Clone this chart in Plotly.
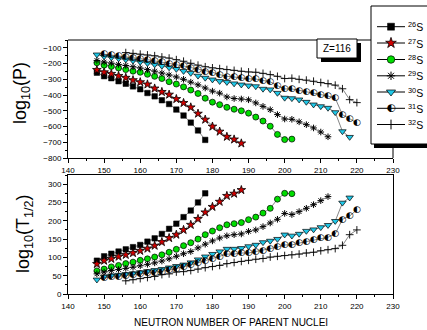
import plotly.graph_objects as go

# ---------------- data ----------------
N26 = [148,150,152,154,156,158,160,162,164,166,168,170,172,174,176,178]
P26 = [-258,-280,-293,-312,-328,-345,-363,-387,-408,-433,-457,-492,-530,-575,-625,-685]
T26 = [91,103,110,116,122,128,134,143,152,164,178,192,210,228,250,275]

N27 = [148,150,152,154,156,158,160,162,164,166,168,170,172,174,176,178,180,182,184,186,188]
P27 = [-240,-255,-265,-278,-290,-305,-318,-332,-358,-380,-397,-425,-450,-478,-518,-556,-600,-632,-665,-682,-707]
T27 = [82,91,96,102,107,112,118,124,132,142,153,162,175,189,205,223,238,252,268,274,284]

N28 = [148,150,152,154,156,158,160,162,164,166,168,170,172,174,176,178,180,182,184,186,188,190,192,194,196,198,200,202]
P28 = [-195,-210,-218,-228,-238,-248,-255,-268,-281,-295,-315,-330,-348,-368,-390,-420,-445,-461,-478,-490,-500,-515,-540,-565,-598,-650,-683,-680]
T28 = [63,68,74,78,83,87,92,96,101,107,114,122,132,140,150,162,172,181,189,192,195,203,210,221,234,259,275,274]

N29 = [148,150,152,154,156,158,160,162,164,166,168,170,172,174,176,178,180,182,184,186,188,190,192,194,196,198,200,202,204,206,208,210,212]
P29 = [-180,-190,-197,-205,-212,-220,-228,-238,-248,-260,-272,-285,-300,-318,-335,-355,-375,-388,-412,-422,-425,-430,-450,-472,-493,-524,-552,-554,-570,-588,-609,-635,-665]
T29 = [55,60,64,67,70,73,77,81,85,90,96,103,110,116,126,136,145,153,159,162,164,171,175,184,194,204,220,217,225,234,244,255,266]

N30 = [148,150,152,154,156,158,160,162,164,166,168,170,172,174,176,178,180,182,184,186,188,190,192,194,196,198,200,202,204,206,208,210,212,214,216,218]
P30 = [-143,-155,-162,-168,-175,-182,-190,-198,-206,-215,-225,-235,-248,-260,-278,-291,-302,-312,-318,-327,-334,-340,-345,-361,-365,-387,-418,-421,-429,-444,-461,-472,-482,-510,-631,-667]
T30 = [39,47,50,52,54,56,59,62,65,68,72,76,80,86,94,102,109,116,123,123,125,130,134,141,145,150,162,159,164,172,176,182,188,199,249,263]

N31 = [150,152,154,156,158,160,162,164,166,168,170,172,174,176,178,180,182,184,186,188,190,192,194,196,198,200,202,204,206,208,210,212,214,216,218,220]
P31 = [-140,-145,-150,-155,-160,-168,-175,-182,-190,-198,-207,-215,-225,-237,-249,-255,-270,-281,-285,-291,-297,-298,-308,-316,-340,-361,-361,-370,-376,-384,-395,-406,-420,-525,-550,-578]
T31 = [44,46,48,50,52,54,57,59,62,65,69,74,79,85,91,96,103,109,109,112,112,116,119,123,128,134,134,139,143,148,153,155,164,204,213,230]

N32 = [156,158,160,162,164,166,168,170,172,174,176,178,180,182,184,186,188,190,192,194,196,198,200,202,204,206,208,210,212,214,216,218,220]
P32 = [-130,-135,-140,-145,-150,-158,-165,-175,-185,-198,-210,-220,-227,-232,-238,-243,-249,-253,-255,-262,-270,-281,-295,-293,-300,-305,-312,-320,-327,-337,-360,-429,-448]
T32 = [36,39,42,45,48,53,55,60,61,64,68,72,75,78,83,86,89,92,95,97,101,103,105,107,109,112,114,118,121,124,133,162,175]

LEGEND_LABELS = ["<sup>26</sup>S", "<sup>27</sup>S", "<sup>28</sup>S", "<sup>29</sup>S",
                 "<sup>30</sup>S", "<sup>31</sup>S", "<sup>32</sup>S"]
Y_TICKS_TOP = [-800, -700, -600, -500, -400, -300, -200, -100]
Y_TICKS_BOT = [0, 50, 100, 150, 200, 250, 300]
X_TICKS = [140, 150, 160, 170, 180, 190, 200, 210, 220, 230]

# ---------------- styles ----------------
FONT = "Liberation Sans, Arial, sans-serif"
styles = [
    dict(symbol="square", size=5.5, color="black", line=dict(color="black", width=0.5)),
    dict(symbol="star", size=6.5, color="#d00000", line=dict(color="black", width=0.8)),
    dict(symbol="circle", size=6, color="#00dd00", line=dict(color="black", width=0.7)),
    dict(symbol="asterisk-open", size=5.5, color="black", line=dict(color="#222222", width=1)),
    dict(symbol="triangle-down", size=6.5, color="#20c8e8", line=dict(color="black", width=0.7)),
    None,  # half-filled circle drawn as a glyph
    dict(symbol="cross-thin-open", size=5.5, color="black", line=dict(color="black", width=0.9)),
]
legend_styles = [
    dict(symbol="square", size=7, color="black", line=dict(color="black", width=0.5)),
    dict(symbol="star", size=8, color="#d00000", line=dict(color="black", width=0.8)),
    dict(symbol="circle", size=7.5, color="#00dd00", line=dict(color="black", width=0.7)),
    dict(symbol="asterisk-open", size=7, color="black", line=dict(color="#222222", width=1)),
    dict(symbol="triangle-down", size=8, color="#20c8e8", line=dict(color="black", width=0.7)),
    None,
    dict(symbol="cross-thin-open", size=7, color="black", line=dict(color="black", width=1)),
]

series = [(N26, P26, T26), (N27, P27, T27), (N28, P28, T28), (N29, P29, T29),
          (N30, P30, T30), (N31, P31, T31), (N32, P32, T32)]

fig = go.Figure()
LINE = dict(color="#333333", width=0.6)
HALF = "\u25D0"
HALF_FONT = dict(family="DejaVu Sans", size=9, color="black")

for i, (n, p, t) in enumerate(series):
    for (vals, xa, ya) in ((p, "x", "y"), (t, "x2", "y2")):
        if styles[i] is None:
            fig.add_trace(go.Scatter(x=n, y=vals, mode="lines", line=LINE,
                                     xaxis=xa, yaxis=ya, showlegend=False))
            fig.add_trace(go.Scatter(x=n, y=vals, mode="text", text=[HALF] * len(n),
                                     textposition="middle center", textfont=HALF_FONT,
                                     xaxis=xa, yaxis=ya, showlegend=False))
        else:
            fig.add_trace(go.Scatter(x=n, y=vals, mode="lines+markers", line=LINE,
                                     marker=styles[i], xaxis=xa, yaxis=ya, showlegend=False))

# ---------------- pixel helpers (layout geometry) ----------------
L, R, T, B = 68, 393, 0, 294
W, H = 427, 330
TOP_Y0, TOP_Y1 = 40, 158      # top panel frame (pixels)
BOT_Y0, BOT_Y1 = 175, 294     # bottom panel frame (pixels)
def px(x):
    return (x - L) / (R - L)
def py(y):
    return (B - y) / (B - T)

legend_rows = [26.7, 43.0, 59.5, 75.8, 92.0, 108.3, 124.5]

# legend markers on an overlay axis measured in pixels
for i, ly in enumerate(legend_rows):
    if legend_styles[i] is None:
        fig.add_trace(go.Scatter(x=[391], y=[ly], mode="text", text=[HALF],
                                 textposition="middle center",
                                 textfont=dict(family="DejaVu Sans", size=10.5, color="black"),
                                 xaxis="x3", yaxis="y3", showlegend=False, cliponaxis=False))
    else:
        fig.add_trace(go.Scatter(x=[391], y=[ly], mode="markers", marker=legend_styles[i],
                                 xaxis="x3", yaxis="y3", showlegend=False, cliponaxis=False))

shapes = []
def line(x0, y0, x1, y1, w=1):
    shapes.append(dict(type="line", xref="paper", yref="paper", layer="below",
                       x0=px(x0), y0=py(y0), x1=px(x1), y1=py(y1),
                       line=dict(color="black", width=w)))
def rect(x0, y0, x1, y1, fill, lw=1):
    shapes.append(dict(type="rect", xref="paper", yref="paper", layer="below",
                       x0=px(x0), y0=py(y0), x1=px(x1), y1=py(y1), fillcolor=fill,
                       line=dict(color="black", width=lw)))

# top panel frame (top & right)
line(L, TOP_Y0, R, TOP_Y0)
line(R, TOP_Y0, R, TOP_Y1)
# Z=116 box with shadow
rect(321, 43, 361, 62, "black", 0)
rect(317, 39, 357, 58, "white")
# legend box with shadow
rect(374, 141, 445, 148, "black", 0)
rect(371, 6, 445, 144, "white")
for ly in legend_rows:
    line(377, ly, 405, ly, 1)

annotations = [
    dict(text="Z=116", x=px(337), y=py(48.5), xref="paper", yref="paper", showarrow=False,
         font=dict(family=FONT, size=10, color="black"), xanchor="center", yanchor="middle"),
    dict(text="NEUTRON NUMBER OF PARENT NUCLEI", x=px(230.5), y=py(322), xref="paper",
         yref="paper", showarrow=False, font=dict(family=FONT, size=10, color="black"),
         xanchor="center", yanchor="middle"),
    dict(text="log<sub>10</sub>(P)", x=px(21), y=py(93), xref="paper", yref="paper",
         showarrow=False, textangle=-90, font=dict(family=FONT, size=18, color="black"),
         xanchor="center", yanchor="middle"),
    dict(text="log<sub>10</sub>(T<sub>1/2</sub>)", x=px(24), y=py(234), xref="paper",
         yref="paper", showarrow=False, textangle=-90,
         font=dict(family=FONT, size=18, color="black"), xanchor="center", yanchor="middle"),
]
for lab, ly in zip(LEGEND_LABELS, legend_rows):
    annotations.append(dict(text=lab, x=px(406), y=py(ly), xref="paper", yref="paper",
                            showarrow=False, xanchor="left", yanchor="middle",
                            font=dict(family=FONT, size=10.5, color="black")))

axis_common = dict(showgrid=False, zeroline=False, showline=True, linecolor="black",
                   linewidth=1, ticks="outside", ticklen=4, tickwidth=1, tickcolor="black",
                   tickfont=dict(family=FONT, size=8, color="black"))

fig.update_layout(
    width=W, height=H,
    margin=dict(l=L, r=W - R, t=T, b=H - B, pad=0, autoexpand=False),
    paper_bgcolor="white", plot_bgcolor="rgba(0,0,0,0)",
    showlegend=False,
    xaxis=dict(domain=[0, 1], anchor="y", range=[140, 230], tickvals=X_TICKS,
               minor=dict(dtick=5, tick0=140, ticks="outside", ticklen=2, tickcolor="black"),
               **axis_common),
    yaxis=dict(domain=[py(TOP_Y1), py(TOP_Y0)], anchor="x", range=[-800, -50],
               tickvals=Y_TICKS_TOP,
               minor=dict(dtick=50, tick0=-800, ticks="outside", ticklen=2, tickcolor="black"),
               **axis_common),
    xaxis2=dict(domain=[0, 1], anchor="y2", range=[140, 230], tickvals=X_TICKS, mirror=True,
                minor=dict(dtick=5, tick0=140, ticks="outside", ticklen=2, tickcolor="black"),
                **axis_common),
    yaxis2=dict(domain=[py(BOT_Y1), py(BOT_Y0)], anchor="x2", range=[0, 325],
                tickvals=Y_TICKS_BOT, mirror=True,
                minor=dict(dtick=25, tick0=0, ticks="outside", ticklen=2, tickcolor="black"),
                **axis_common),
    xaxis3=dict(domain=[0, 1], anchor="y3", range=[L, R], visible=False, fixedrange=True),
    yaxis3=dict(domain=[0, 1], anchor="x3", range=[B, T], visible=False, fixedrange=True),
    shapes=shapes,
    annotations=annotations,
)

fig.write_html("out.html", config={"displayModeBar": False, "staticPlot": True},
               post_script="document.body.style.margin='0px';document.body.style.overflow='hidden';")
